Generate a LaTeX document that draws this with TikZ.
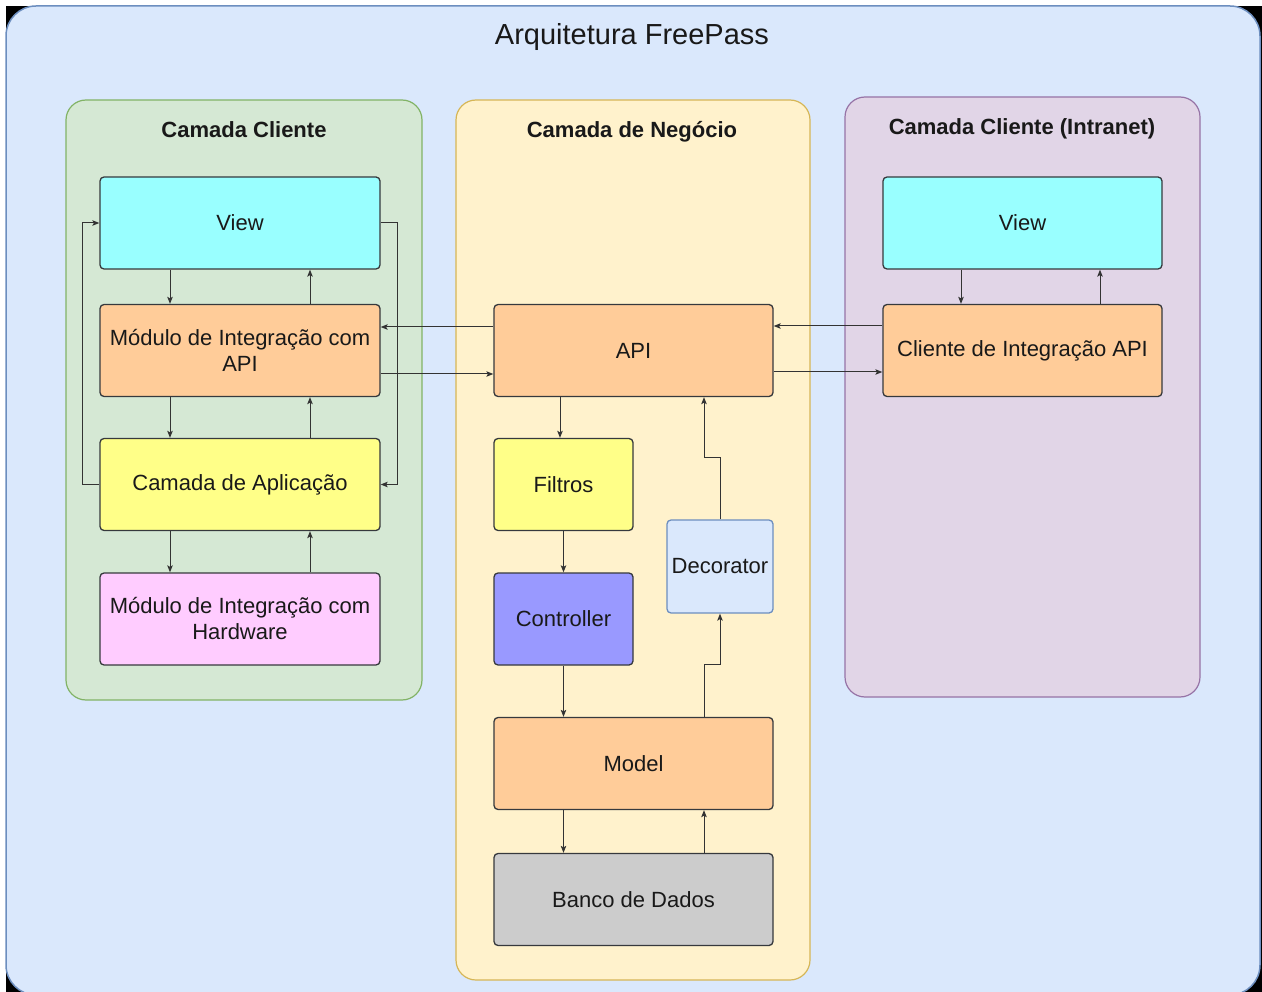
\documentclass[tikz,border=0pt]{standalone}
\usepackage{fontspec}
\setmainfont{Liberation Sans}
\usetikzlibrary{arrows.meta}
\definecolor{outerfill}{HTML}{DAE8FC}
\definecolor{outerline}{HTML}{6C8EBF}
\definecolor{greenfill}{HTML}{D5E8D4}
\definecolor{greenline}{HTML}{82B366}
\definecolor{yellowfill}{HTML}{FFF2CC}
\definecolor{yellowline}{HTML}{D6B656}
\definecolor{purplefill}{HTML}{E1D5E7}
\definecolor{purpleline}{HTML}{9673A6}
\definecolor{boxline}{HTML}{36393D}
\definecolor{wirec}{HTML}{333333}
\definecolor{cview}{HTML}{99FFFF}
\definecolor{corange}{HTML}{FFCC99}
\definecolor{cyellow}{HTML}{FFFF88}
\definecolor{cpink}{HTML}{FFCCFF}
\definecolor{cviolet}{HTML}{9999FF}
\definecolor{cgray}{HTML}{CCCCCC}
\definecolor{cdeco}{HTML}{DAE8FC}
\begin{document}
\begin{tikzpicture}[x=1pt,y=-1pt,
  layer/.style={rounded corners=20pt, line width=1.2pt},
  layertitle/.style={anchor=base, font=\bfseries\fontsize{22}{26}\selectfont, text=black!90},
  blk/.style={draw=boxline, rounded corners=4pt, line width=1.3pt, inner sep=0pt,
    minimum height=92pt, align=center, text=black!90,
    font=\fontsize{22}{26}\selectfont},
  wide/.style={blk, minimum width=280pt},
  narrow/.style={blk, minimum width=139pt},
  arr/.style={draw=wirec, line width=1pt,
    -{Stealth[length=7pt,width=5.5pt,inset=1.5pt]}}
]
\useasboundingbox (0,0) rectangle (1262,992);
% page and outer frame (its lower edge runs past the page)
\fill[white] (0,0) rectangle (1262,992);
\fill[black] (6,6) rectangle (1262,992);
\draw[fill=outerfill, draw=outerline, line width=1.5pt, rounded corners=30pt]
  (6,6) rectangle (1260,995);
\node[anchor=base, font=\fontsize{29}{34}\selectfont, text=black!90] (maintitle) at (632,45) {Arquitetura FreePass};

% the three layers
\draw[layer, fill=greenfill, draw=greenline] (66,100) rectangle (422,700);
\draw[layer, fill=yellowfill, draw=yellowline] (456,100) rectangle (810,980);
\draw[layer, fill=purplefill, draw=purpleline] (845,97) rectangle (1200,697);
\node[layertitle] (tcli) at (244,138) {Camada Cliente};
\node[layertitle] (tneg) at (632,138) {Camada de Negócio};
\node[layertitle] (tintra) at (1022,135) {Camada Cliente (Intranet)};

% client layer
\node[wide, fill=cview] (lview) at (240,223) {View};
\node[wide, fill=corange] (lmod) at (240,350.5) {Módulo de Integração com\\API};
\node[wide, fill=cyellow] (lapp) at (240,484.5) {Camada de Aplicação};
\node[wide, fill=cpink] (lhw) at (240,619) {Módulo de Integração com\\Hardware};

% business layer
\node[wide, minimum width=279pt, fill=corange] (api) at (633.5,350.5) {API};
\node[narrow, fill=cyellow] (filtros) at (563.5,484.5) {Filtros};
\node[narrow, fill=cviolet] (ctrl) at (563.5,619) {Controller};
\node[blk, minimum width=106pt, minimum height=93pt, fill=cdeco, draw=outerline] (deco) at (720,566.5) {Decorator};
\node[wide, minimum width=279pt, fill=corange] (model) at (633.5,763.5) {Model};
\node[wide, minimum width=279pt, fill=cgray] (db) at (633.5,899.5) {Banco de Dados};

% intranet client layer
\node[wide, minimum width=279pt, fill=cview] (rview) at (1022.5,223) {View};
\node[wide, minimum width=279pt, fill=corange] (rcli) at (1022.5,350.5) {Cliente de Integração API};

% client layer connectors
\draw[arr] ([xshift=-70pt]lview.south) -- ([xshift=-70pt]lmod.north);
\draw[arr] ([xshift=70pt]lmod.north) -- ([xshift=70pt]lview.south);
\draw[arr] ([xshift=-70pt]lmod.south) -- ([xshift=-70pt]lapp.north);
\draw[arr] ([xshift=70pt]lapp.north) -- ([xshift=70pt]lmod.south);
\draw[arr] ([xshift=-70pt]lapp.south) -- ([xshift=-70pt]lhw.north);
\draw[arr] ([xshift=70pt]lhw.north) -- ([xshift=70pt]lapp.south);
\draw[arr] (lapp.west) -- ++(-17,0) |- (lview.west);
\draw[arr] (lview.east) -- ++(17,0) |- (lapp.east);

% API links between layers
\draw[arr] ([yshift=23.5pt]api.west) -- ([yshift=23.5pt]lmod.east);
\draw[arr] ([yshift=-23.5pt]lmod.east) -- ([yshift=-23.5pt]api.west);
\draw[arr] ([yshift=24.5pt]rcli.west) -- ([yshift=24.5pt]api.east);
\draw[arr] ([yshift=-21.5pt]api.east) -- ([yshift=-21.5pt]rcli.west);

% intranet connectors
\draw[arr] ([xshift=-61.5pt]rview.south) -- ([xshift=-61.5pt]rcli.north);
\draw[arr] ([xshift=77.5pt]rcli.north) -- ([xshift=77.5pt]rview.south);

% business layer connectors
\draw[arr] ([xshift=-3.5pt]filtros.north |- api.south) -- ([xshift=-3.5pt]filtros.north);
\draw[arr] (filtros.south) -- (ctrl.north);
\draw[arr] (ctrl.south) -- (ctrl.south |- model.north);
\draw[arr] (ctrl.south |- model.south) -- (ctrl.south |- db.north);
\draw[arr] ([xshift=70.5pt]db.north) -- ([xshift=70.5pt]model.south);
\draw[arr] ([xshift=70.5pt]model.north) -- ++(0,-52) -| (deco.south);
\draw[arr] (deco.north) -- ++(0,-62) -| ([xshift=70.5pt]api.south);
\end{tikzpicture}
\end{document}
